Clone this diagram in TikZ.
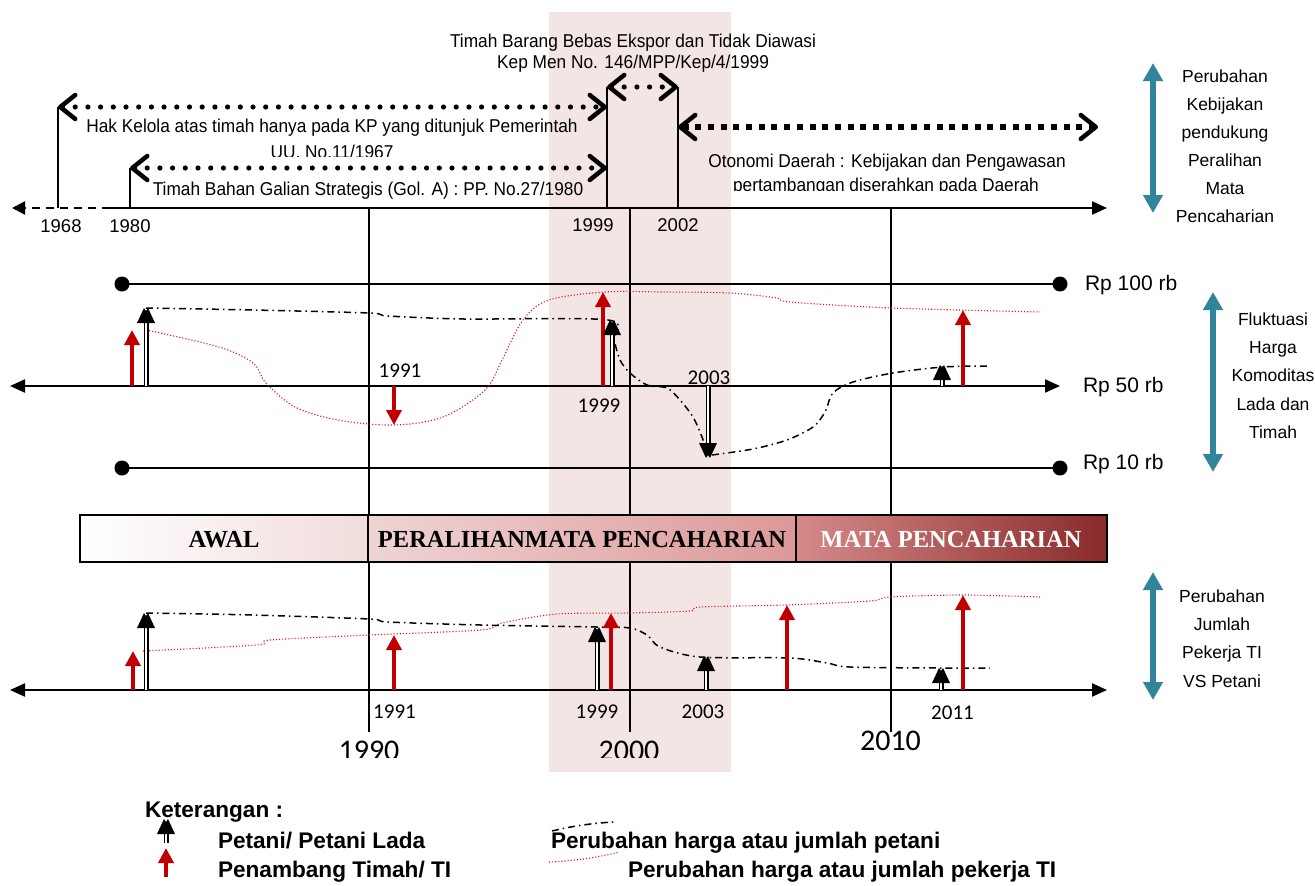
\documentclass[tikz,border=0pt]{standalone}
\usepackage{fontspec}
\setmainfont{Liberation Sans}
\newfontfamily\narrowfont[FakeStretch=0.93]{Liberation Sans}
\newfontfamily\yearfont{Carlito}
\newfontfamily\banfont{Liberation Serif}
\usetikzlibrary{arrows.meta}
\definecolor{tired}{RGB}{192,0,0}
\definecolor{kteal}{RGB}{49,133,155}
\definecolor{bandpink}{RGB}{244,229,229}
\definecolor{dotred}{RGB}{225,20,20}
\definecolor{banA}{RGB}{242,220,220}
\definecolor{banB}{RGB}{239,212,212}
\definecolor{banC}{RGB}{221,152,152}
\definecolor{banD}{RGB}{214,138,138}
\definecolor{banE}{RGB}{138,42,42}
\newcommand\PetaniArr[4]{%
  \draw[line width=1.3pt, double=white, double distance=2.4pt] (#1,#2) -- (#1,{#3+(#4)*13});
  \fill ({#1-9},{#3+(#4)*15}) -- ({#1-2},#3) -- (#1,{#3+(#4)*3}) -- ({#1+2},#3) -- ({#1+9},{#3+(#4)*15}) -- cycle;}
\tikzset{
  every node/.style={inner sep=0pt, outer sep=0pt},
  txt/.style={font=\narrowfont\fontsize{18.6}{22}\selectfont},
  sidetxt/.style={font=\fontsize{17.5}{21}\selectfont},
  toptxt/.style={font=\fontsize{18.5}{22}\selectfont},
  rptxt/.style={font=\fontsize{21}{25}\selectfont},
  yrtxt/.style={font=\yearfont\fontsize{21}{25}\selectfont},
  dectxt/.style={font=\yearfont\fontsize{30}{34}\selectfont},
  bantxt/.style={font=\banfont\bfseries\fontsize{24.5}{28}\selectfont},
  legtxt/.style={font=\bfseries\fontsize{22.6}{26}\selectfont},
  axisline/.style={line width=2.2pt},
  tipR/.style={-{Triangle[length=15pt,width=13pt]}},
  tipLR/.style={{Triangle[length=15pt,width=13pt]}-{Triangle[length=15pt,width=13pt]}},
  gridline/.style={line width=1.8pt},
  tickline/.style={line width=1.6pt},
  polarrow/.style={line width=5.2pt, line cap=round, dash pattern=on 0pt off 12.7pt,
    {Straight Barb[length=15pt,width=24pt,line width=4.5pt,line cap=round,line join=round]}-{Straight Barb[length=15pt,width=24pt,line width=4.5pt,line cap=round,line join=round]}},
  otoarrow/.style={line width=6pt, line cap=butt, dash pattern=on 6pt off 6.7pt,
    {Straight Barb[length=15pt,width=24pt,line width=4.5pt,line cap=round,line join=round]}-{Straight Barb[length=15pt,width=24pt,line width=4.5pt,line cap=round,line join=round]}},
  redarr/.style={draw=tired, line width=4pt, -{Triangle[length=15pt,width=15pt]}},
  tealarr/.style={draw=kteal, line width=6.5pt, {Triangle[length=18pt,width=19pt]}-{Triangle[length=18pt,width=19pt]}},
  dashdot/.style={line width=1.5pt, dash pattern=on 7pt off 4pt on 1.5pt off 4pt},
  reddot/.style={draw=dotred, line width=1.1pt, dash pattern=on 1.1pt off 2pt},
}
\begin{document}
\begin{tikzpicture}[x=1pt,y=-1pt]
\useasboundingbox (0,0) rectangle (1315,886);
\fill[white] (0,0) rectangle (1315,886);
% band
\fill[bandpink] (549,12) rectangle (731,772);

% ---------- top policy timeline ----------
\draw[axisline, dash pattern=on 8pt off 6pt, -{Triangle[length=13pt,width=13pt]}] (110,208) -- (12,208);
\draw[axisline, tipR] (110,208) -- (1107,208);
\draw[tickline] (58,208) -- (58,107);
\draw[tickline] (130,208) -- (130,168);
\draw[tickline] (607,208) -- (607,87);
\draw[tickline] (678,208) -- (678,87);
\draw[polarrow] (58,107) -- (607,107);
\draw[polarrow] (130,168) -- (607,168);
\draw[polarrow] (607,87) -- (678,87);
\draw[otoarrow] (678,127) -- (1098,127);

\node[txt, anchor=base] (tb1) at (633,47) {Timah Barang Bebas Ekspor dan Tidak Diawasi};
\node[txt, anchor=base] (tb2) at (633,68) {Kep Men No. 146/MPP/Kep/4/1999};
\node[txt, anchor=base] (hk1) at (332,132) {Hak Kelola atas timah hanya pada KP yang ditunjuk Pemerintah};
\begin{scope}
  \clip (200,135) rectangle (460,156);
  \node[txt, anchor=base] (hk2) at (332,158.5) {UU. No.11/1967};
\end{scope}
\node[txt, anchor=base] (gal) at (368,195) {Timah Bahan Galian Strategis (Gol. A) : PP. No.27/1980};
\node[txt, anchor=base] (ot1) at (887,167) {Otonomi Daerah : Kebijakan dan Pengawasan};
\begin{scope}
  \clip (700,170) rectangle (1080,190.5);
  \node[txt, anchor=base] (ot2) at (886,191.5) {pertambangan diserahkan pada Daerah};
\end{scope}
\node[toptxt, anchor=base] (y68) at (61,232) {1968};
\node[toptxt, anchor=base] (y80) at (130,232) {1980};
\node[toptxt, anchor=base] (y99) at (593,231) {1999};
\node[toptxt, anchor=base] (y02) at (678,231) {2002};

% teal arrows and labels
\draw[tealarr] (1153,63) -- (1153,213);
\foreach \t/\b [count=\i] in {Perubahan/82, Kebijakan/110, pendukung/138, Peralihan/166, Mata/194, Pencaharian/222}
  \node[sidetxt, anchor=base] (pk\i) at (1225,\b) {\t};
\draw[tealarr] (1213,292) -- (1213,472);
\foreach \t/\b [count=\i] in {Fluktuasi/325, Harga/353.3, Komoditas/381.6, Lada dan/410, Timah/438.3}
  \node[sidetxt, anchor=base] (fh\i) at (1273,\b) {\t};
\draw[tealarr] (1153,572) -- (1153,700);
\foreach \t/\b [count=\i] in {Perubahan/602, Jumlah/630.3, Pekerja TI/658.6, VS Petani/687}
  \node[sidetxt, anchor=base] (pj\i) at (1222,\b) {\t};

% ---------- decade grid ----------
\draw[gridline] (369,208) -- (369,732);
\draw[gridline] (630,208) -- (630,732);
\draw[gridline] (891,208) -- (891,732);

% ---------- price section ----------
\draw[gridline] (122,284) -- (1060,284);
\draw[gridline] (122,468) -- (1060,468);
\foreach \px/\py in {122/284, 1060/284, 122/468, 1060/468}
  \fill (\px,\py) circle[radius=7.5pt];
\draw[axisline, tipLR] (10,386) -- (1060,386);
\node[rptxt, anchor=base west] (rp100) at (1085,290) {Rp 100 rb};
\node[rptxt, anchor=base west] (rp50) at (1083,392) {Rp 50 rb};
\node[rptxt, anchor=base west] (rp10) at (1083,469) {Rp 10 rb};

\draw[reddot] plot[smooth, tension=0.55] coordinates {(146,330) (219,347) (253,363) (266,383) (295,407) (338,420) (394,425) (443,417) (485,390) (502,360) (523,320) (549,300) (605,292) (662,292) (730,293) (777,298) (790,302) (892,308) (1040,312)};
\draw[dashdot] plot[smooth, tension=0.5] coordinates {(146,308) (253,310) (369,313) (388,316) (464,319) (608,320) (614,340) (620,360) (630,373) (647,385) (667,388) (680,400) (693,417) (702,437) (707,453)};
\draw[dashdot] plot[smooth, tension=0.5] coordinates {(712,455) (753,449) (787,440) (813,427) (825,412) (833,393) (853,382) (893,373) (943,367) (988,366)};

\draw[redarr] (132,386) -- (132,330);
\PetaniArr{146}{386}{308}{1}
\draw[redarr] (394,386) -- (394,425);
\draw[redarr] (603,386) -- (603,292);
\PetaniArr{612}{386}{320}{1}
\PetaniArr{708}{386}{458}{-1}
\PetaniArr{942}{386}{365}{1}
\draw[redarr] (963,386) -- (963,310);

\node[yrtxt, anchor=base] (p91) at (400,377) {1991};
\node[yrtxt, anchor=base] (p99) at (599,412) {1999};
\node[yrtxt, anchor=base] (p03) at (709,384) {2003};

% ---------- banner ----------
\shade[left color=white, right color=banA] (80,515) rectangle (368,562);
\shade[left color=banB, right color=banC] (368,515) rectangle (796,562);
\shade[left color=banD, right color=banE] (796,515) rectangle (1107,562);
\draw[line width=1.5pt] (368,515) -- (368,562);
\draw[line width=1.5pt] (796,515) -- (796,562);
\draw[line width=2.5pt] (80,515) rectangle (1107,562);
\node[bantxt] (awal) at (224,540) {AWAL};
\node[bantxt] (peral) at (582,540) {PERALIHANMATA PENCAHARIAN};
\node[bantxt, text=white] (mata) at (951,540) {MATA PENCAHARIAN};

% ---------- worker section ----------
\draw[axisline, tipLR] (10,690) -- (1107,690);
\draw[reddot] plot[smooth, tension=0.5] coordinates {(143,651) (257,645) (270,640) (369,635) (481,630) (502,623) (557,614) (630,613) (690,611) (700,607) (785,605) (870,601) (890,597) (963,595) (1040,597)};
\draw[dashdot] plot[smooth, tension=0.5] coordinates {(146,613) (253,615) (369,619) (388,622) (481,625) (597,627) (630,628) (647,635) (660,647) (700,657) (790,658) (827,663) (850,667) (940,668) (990,668)};

\draw[redarr] (133,690) -- (133,651);
\PetaniArr{146}{690}{613}{1}
\draw[redarr] (394,690) -- (394,635);
\PetaniArr{597}{690}{627}{1}
\draw[redarr] (611,690) -- (611,613);
\PetaniArr{706}{690}{656}{1}
\draw[redarr] (787,690) -- (787,605);
\PetaniArr{941}{690}{668}{1}
\draw[redarr] (963,690) -- (963,595);

\node[yrtxt, anchor=base] (b91) at (394.5,718) {1991};
\node[yrtxt, anchor=base] (b99) at (597,718) {1999};
\node[yrtxt, anchor=base] (b03) at (703,718) {2003};
\node[yrtxt, anchor=base] (b11) at (952.5,719) {2011};
\begin{scope}
  \clip (300,725) rectangle (700,757);
  \node[dectxt, anchor=base] (d90) at (369,760) {1990};
  \node[dectxt, anchor=base] (d00) at (629,760) {2000};
\end{scope}
\node[dectxt, anchor=base] (d10) at (890.5,750) {2010};

% ---------- legend ----------
\node[legtxt, anchor=base west] (ket) at (145,817) {Keterangan :};
\PetaniArr{166}{843}{819}{1}
\draw[redarr] (166,877) -- (166,848);
\node[legtxt, anchor=base west] (lg1) at (218,848) {Petani/ Petani Lada};
\node[legtxt, anchor=base west] (lg2) at (218,877) {Penambang Timah/ TI};
\draw[dashdot] (552,831) .. controls (572,826) and (594,823) .. (614,822);
\draw[reddot] (549,862) .. controls (575,861) and (600,857) .. (619,852);
\node[legtxt, anchor=base west] (lg3) at (551,848) {Perubahan harga atau jumlah petani};
\node[legtxt, anchor=base west] (lg4) at (628,877) {Perubahan harga atau jumlah pekerja TI};
\end{tikzpicture}
\end{document}
